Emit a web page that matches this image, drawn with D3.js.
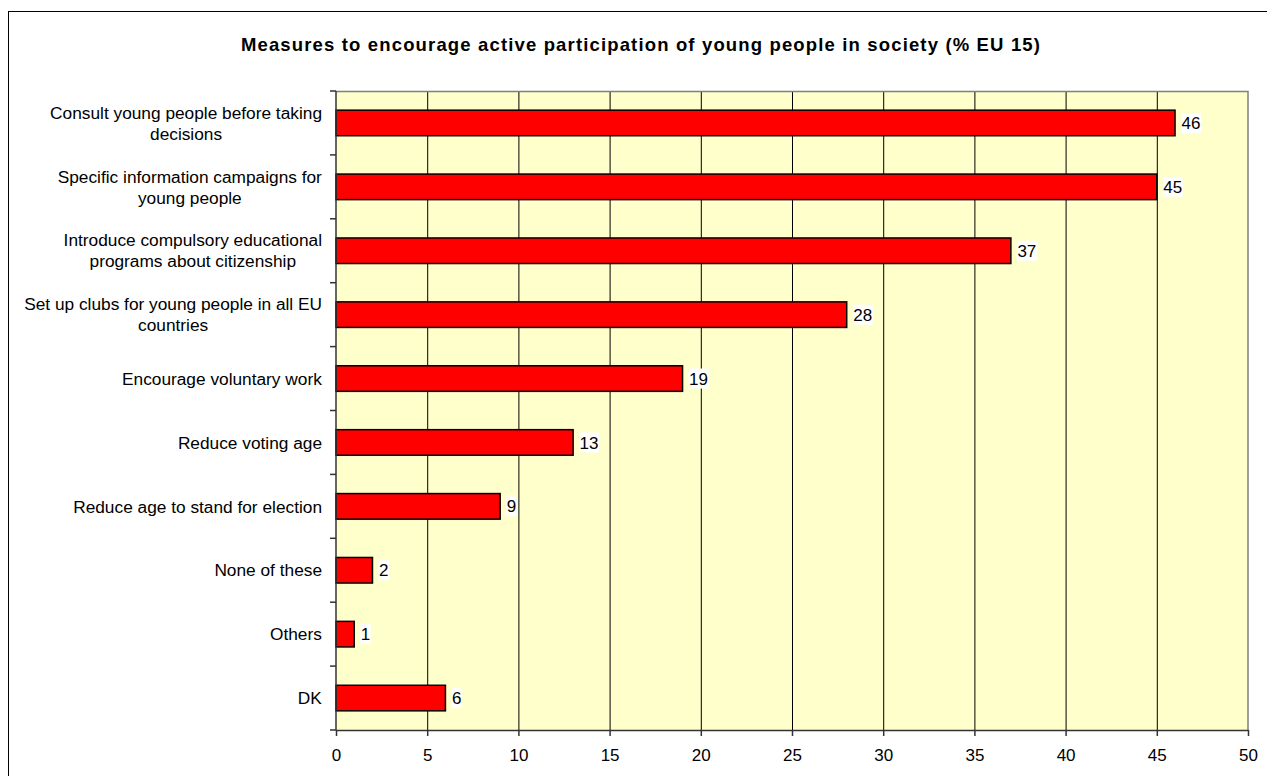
<!DOCTYPE html>
<html lang="en">
<head>
    <meta charset="UTF-8">
    <title>Measures to encourage active participation</title>
    <script src="https://d3js.org/d3.v7.min.js"></script>
    <style>
        body { margin: 0; background: white; }
        text { font-family: "Liberation Sans", Arial, sans-serif; fill: black; }
    </style>
</head>
<body>
    <svg id="chart" width="1267" height="776"></svg>

    <script>
        // data ---------------------------------------------------------------
        const titleText = "Measures to encourage active participation of young people in society (% EU 15)";
        const categories = [
            "Consult young people before taking\ndecisions",
            "Specific information campaigns for\nyoung people",
            "Introduce compulsory educational\nprograms about citizenship",
            "Set up clubs for young people in all EU\ncountries",
            "Encourage voluntary work",
            "Reduce voting age",
            "Reduce age to stand for election",
            "None of these",
            "Others",
            "DK"
        ];
        const values = [46, 45, 37, 28, 19, 13, 9, 2, 1, 6];
        const xTicks = [0, 5, 10, 15, 20, 25, 30, 35, 40, 45, 50];

        // svg configuration --------------------------------------------------
        const svg = d3.select("svg#chart");
        const plot = {left: 336, right: 1248, top: 91, bottom: 730};
        const fontSize = "17px";

        // outer border
        svg.append("rect")
            .attr("x", 8.5).attr("y", 11.5)
            .attr("width", 1300).attr("height", 800)
            .attr("fill", "white").attr("stroke", "black").attr("stroke-width", 1);

        svg.append("text")
            .attr("x", 641).attr("y", 51)
            .attr("text-anchor", "middle")
            .style("font-size", "18.5px").style("font-weight", "bold")
            .style("letter-spacing", "1.15px")
            .text(titleText);

        const x = d3.scaleLinear().domain([0, 50]).range([plot.left, plot.right]);
        const y = d3.scaleBand().domain(categories).range([plot.top, plot.bottom])
            .paddingInner(0.6).paddingOuter(0.3);

        // plot background
        svg.append("rect")
            .attr("x", plot.left).attr("y", plot.top)
            .attr("width", plot.right - plot.left).attr("height", plot.bottom - plot.top)
            .attr("fill", "#FFFFCC");

        // vertical grid lines
        svg.append("g")
            .selectAll("line")
            .data(xTicks.slice(1, -1))
            .join("line")
            .attr("x1", d => x(d) + 0.5).attr("x2", d => x(d) + 0.5)
            .attr("y1", plot.top).attr("y2", plot.bottom)
            .attr("stroke", "black").attr("stroke-width", 1);

        // top / right border
        svg.append("path")
            .attr("d", `M${plot.left},${plot.top + 0.5}H${plot.right}V${plot.bottom}`)
            .attr("fill", "none").attr("stroke", "#808080").attr("stroke-width", 1.5);

        // bars
        svg.append("g")
            .selectAll("rect")
            .data(values)
            .join("rect")
            .attr("x", x(0))
            .attr("y", (d, i) => y(categories[i]))
            .attr("width", d => x(d) - x(0))
            .attr("height", y.bandwidth())
            .attr("fill", "#FF0000")
            .attr("stroke", "black").attr("stroke-width", 1.5);

        // value labels with white box
        const labels = svg.append("g")
            .selectAll("g")
            .data(values)
            .join("g")
            .attr("transform", (d, i) => `translate(${x(d) + 6},${y(categories[i]) + y.bandwidth() / 2})`);
        labels.append("rect")
            .attr("x", 0).attr("y", -10)
            .attr("width", d => String(d).length * 9.5 + 1).attr("height", 20)
            .attr("fill", "white");
        labels.append("text")
            .attr("x", 0.5).attr("dy", "0.36em")
            .style("font-size", fontSize)
            .text(d => d);

        // left axis: line and ticks at category boundaries
        const step = y.step();
        svg.append("line")
            .attr("x1", plot.left).attr("x2", plot.left)
            .attr("y1", plot.top).attr("y2", plot.bottom)
            .attr("stroke", "#333").attr("stroke-width", 1.5);
        svg.append("g")
            .selectAll("line")
            .data(d3.range(categories.length + 1))
            .join("line")
            .attr("x1", plot.left - 6).attr("x2", plot.left)
            .attr("y1", i => y(categories[0]) - y.bandwidth() * 0.75 + i * step)
            .attr("y2", i => y(categories[0]) - y.bandwidth() * 0.75 + i * step)
            .attr("stroke", "#333").attr("stroke-width", 1.5);

        // category labels (multi-line, centred lines, block right aligned)
        const catG = svg.append("g");
        categories.forEach((c, i) => {
            const lines = c.split("\n");
            const cy = y(c) + y.bandwidth() / 2;
            const t = catG.append("text")
                .style("font-size", "17.3px")
                .attr("text-anchor", "middle");
            lines.forEach((ln, j) => {
                t.append("tspan")
                    .attr("x", 0)
                    .attr("y", cy + (j - (lines.length - 1) / 2) * 21)
                    .attr("dy", "0.36em")
                    .text(ln);
            });
            const w = t.node().getBBox().width;
            t.selectAll("tspan").attr("x", 322 - w / 2);
        });

        // bottom axis
        const axisBottom = d3.axisBottom(x).tickValues(xTicks).tickSize(6).tickSizeOuter(0).tickPadding(13);
        const gx = svg.append("g")
            .attr("transform", `translate(0,${plot.bottom})`)
            .call(axisBottom);
        gx.select(".domain").attr("stroke", "#333").attr("stroke-width", 1.5);
        gx.selectAll(".tick line").attr("stroke", "#333").attr("stroke-width", 1.5);
        gx.selectAll(".tick text")
            .style("font-size", fontSize)
            .style("font-family", "'Liberation Sans', Arial, sans-serif")
            .attr("fill", "black");
    </script>
</body>
</html>
